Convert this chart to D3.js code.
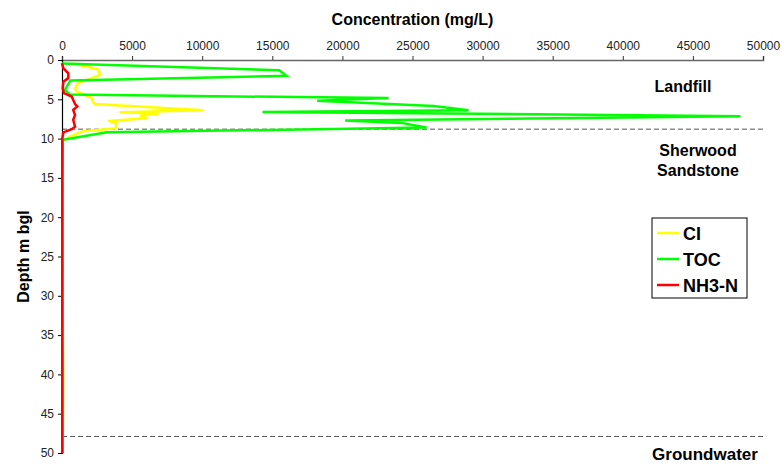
<!DOCTYPE html>
<html>
<head>
<meta charset="utf-8">
<script src="https://cdn.jsdelivr.net/npm/d3@7"></script>
<style>
  body { margin: 0; background: #fff; }
  text { font-family: "Liberation Sans", Arial, sans-serif; }
</style>
</head>
<body>
<div id="viz"></div>
<script>
// depth profile of concentrations below a landfill

var width = 782;
var height = 464;
var plotLeft = 62, plotRight = 763, plotTop = 60, plotBottom = 453;

// tick labels
var xTicks = [0, 5000, 10000, 15000, 20000, 25000, 30000, 35000, 40000, 45000, 50000];
var yTicks = [0, 5, 10, 15, 20, 25, 30, 35, 40, 45, 50];

// Cl (mg/L) against depth (m bgl)
var clDepth = [0.45, 1.2, 1.9, 2.4, 2.9, 3.6, 4.0, 4.8, 5.3, 5.6, 6.4, 6.65, 6.8, 7.1, 7.4, 7.75, 8.05, 8.7, 9.05, 9.75, 10.3, 15, 20, 25, 30, 35, 40, 45, 50];
var clValue = [800, 2600, 2700, 2000, 1150, 930, 1050, 2100, 2200, 2350, 10100, 4100, 6900, 5550, 6050, 3300, 3900, 3800, 1500, 570, 40, 40, 40, 50, 50, 60, 80, 70, 40];

// TOC
var tocDepth = [0.45, 1.3, 2.0, 2.6, 3.8, 4.4, 4.85, 5.2, 5.85, 6.4, 6.6, 7.15, 7.7, 8.0, 8.6, 9.2, 10.15, 15, 20, 25, 30, 35, 40, 45, 50];
var tocValue = [0, 15500, 16000, 600, 200, 600, 23300, 18200, 26500, 29000, 14300, 48400, 20200, 24200, 26000, 3200, 60, 30, 30, 30, 30, 30, 30, 30, 30];

// NH3-N
var nh3Depth = [0.4, 1.05, 1.7, 2.3, 2.75, 3.6, 4.2, 4.65, 5.1, 5.6, 5.9, 6.35, 7.0, 7.6, 8.5, 8.8, 9.2, 10.0, 15, 20, 25, 30, 35, 40, 45, 50];
var nh3Value = [0, 100, 450, 450, 100, 50, 140, 690, 800, 930, 1090, 800, 930, 800, 930, 690, 100, 20, 20, 20, 20, 20, 20, 20, 20, 20];

var seriesNames = ["Cl", "TOC", "NH3-N"];
var seriesColors = ["#ffff00", "#00ff00", "#ff0000"];

// boundaries (m bgl)
var boundaryDepths = [8.8, 47.9];

var svg = d3.select("#viz")
    .append("svg")
    .attr("width", width)
    .attr("height", height);

var xscale = d3.scaleLinear().domain([0, 50000]).range([plotLeft, plotRight]);
var yscale = d3.scaleLinear().domain([0, 50]).range([plotTop, plotBottom]);

// boundary dashed lines
svg.selectAll(".boundary")
    .data(boundaryDepths)
    .enter()
    .append("line")
    .attr("x1", xscale(0))
    .attr("x2", plotRight)
    .attr("y1", function(d) { return yscale(d); })
    .attr("y2", function(d) { return yscale(d); })
    .attr("stroke", "#555")
    .attr("stroke-width", 1)
    .attr("stroke-dasharray", "5,3");

// axes
var xAxis = svg.append("g")
    .attr("transform", "translate(0," + plotTop + ")")
    .call(d3.axisTop(xscale).tickValues(xTicks).tickFormat(d3.format("d")).tickSize(4).tickPadding(6));
xAxis.select(".domain").attr("stroke", "#666").attr("stroke-width", 1.5);
xAxis.selectAll(".tick line").attr("stroke", "#333");
xAxis.selectAll("text").attr("font-size", 12).attr("fill", "#222").style("font-family", "Liberation Sans, Arial");

var yAxis = svg.append("g")
    .attr("transform", "translate(" + plotLeft + ",0)")
    .call(d3.axisLeft(yscale).tickValues(yTicks).tickSize(4).tickPadding(4));
yAxis.select(".domain").attr("stroke", "#000").attr("stroke-width", 1.2);
yAxis.selectAll("text").attr("font-size", 12).attr("fill", "#222").style("font-family", "Liberation Sans, Arial");

// series lines
var line = d3.line()
    .x(function(d) { return xscale(d[0]); })
    .y(function(d) { return yscale(d[1]); });

var series = [
    d3.zip(clValue, clDepth),
    d3.zip(tocValue, tocDepth),
    d3.zip(nh3Value, nh3Depth)
];

svg.selectAll(".series")
    .data(series)
    .enter()
    .append("path")
    .attr("d", line)
    .attr("fill", "none")
    .attr("stroke", function(d, i) { return seriesColors[i]; })
    .attr("stroke-width", 2.5)
    .attr("stroke-linejoin", "miter");

// axis titles
svg.append("text")
    .attr("x", (plotLeft + plotRight) / 2)
    .attr("y", 25)
    .attr("text-anchor", "middle")
    .attr("font-size", 16)
    .attr("font-weight", "bold")
    .text("Concentration (mg/L)");

svg.append("text")
    .attr("transform", "translate(29," + (plotTop + plotBottom) / 2 + ") rotate(-90)")
    .attr("text-anchor", "middle")
    .attr("font-size", 16)
    .attr("font-weight", "bold")
    .text("Depth m bgl");

// zone labels
var zoneLabels = [["Landfill"], ["Sherwood", "Sandstone"], ["Groundwater"]];
var zoneX = [683, 698, 705];
var zoneY = [92, 156, 460];
zoneLabels.forEach(function(lines, i) {
    var t = svg.append("text")
        .attr("x", zoneX[i])
        .attr("y", zoneY[i])
        .attr("text-anchor", "middle")
        .attr("font-size", i === 2 ? 17 : 16)
        .attr("font-weight", "bold");
    lines.forEach(function(s, j) {
        t.append("tspan").attr("x", zoneX[i]).attr("dy", j === 0 ? 0 : 20).text(s);
    });
});

// legend
var legend = svg.append("g").attr("transform", "translate(652,218)");
legend.append("rect")
    .attr("width", 95)
    .attr("height", 80)
    .attr("fill", "#fff")
    .attr("stroke", "#000")
    .attr("stroke-width", 1);

var rows = legend.selectAll(".row")
    .data(seriesNames)
    .enter()
    .append("g")
    .attr("transform", function(d, i) { return "translate(0," + (15 + i * 26) + ")"; });

rows.append("line")
    .attr("x1", 5).attr("x2", 27)
    .attr("y1", 0).attr("y2", 0)
    .attr("stroke", function(d, i) { return seriesColors[i]; })
    .attr("stroke-width", 2.5);

rows.append("text")
    .attr("x", 31)
    .attr("y", 6.5)
    .attr("font-size", 18)
    .attr("font-weight", "bold")
    .text(function(d) { return d === "Cl" ? "CI" : d; });
</script>
</body>
</html>
